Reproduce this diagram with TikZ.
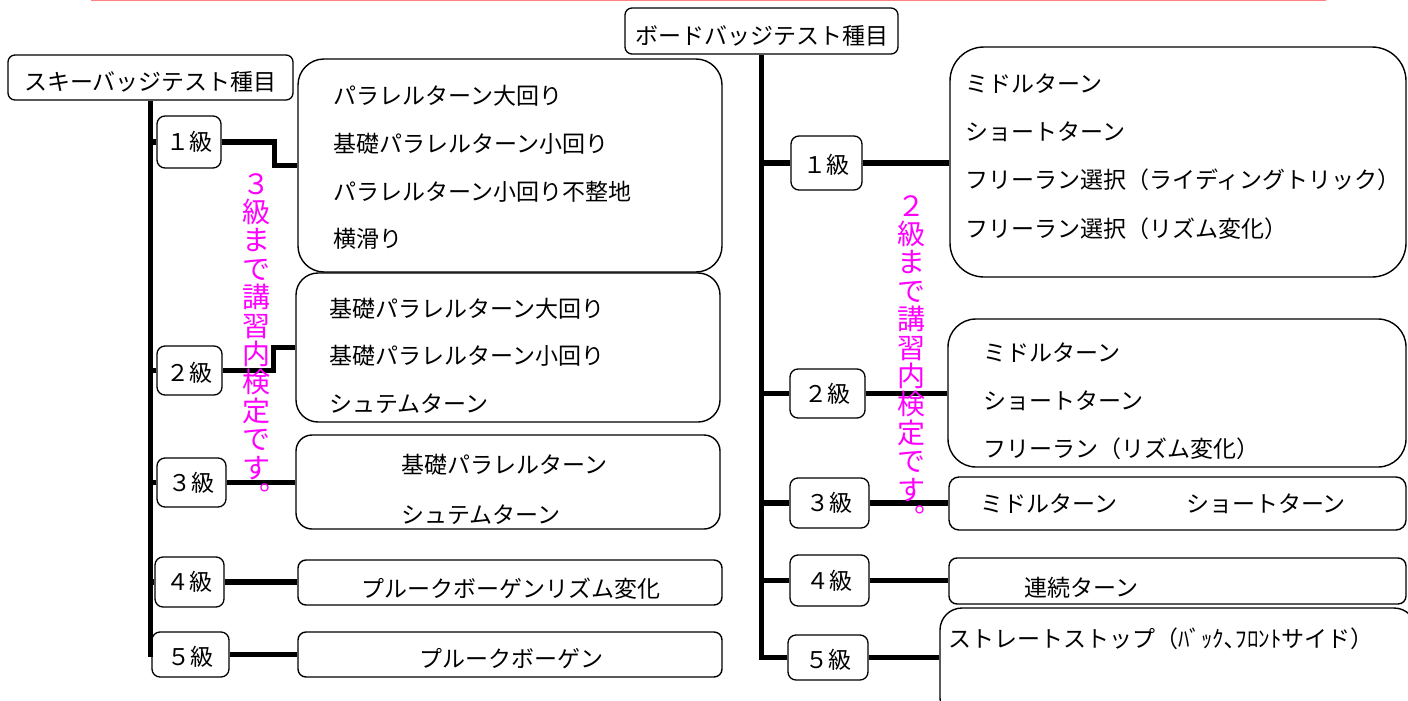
\documentclass[tikz,border=0pt]{standalone}
\usepackage{fontspec}
\setmainfont{Noto Sans CJK JP}
\definecolor{pinkline}{RGB}{255,128,128}
\definecolor{notepink}{RGB}{255,0,255}
\newcommand{\lowtext}[2]{\raisebox{-#1}[\height][\depth]{#2}}

\begin{document}
\begin{tikzpicture}[line cap=butt,line join=miter,x=1pt,y=-1pt,
  every node/.style={font=\fontsize{23}{28}\selectfont},
  head/.style={draw,line width=1.3pt,rounded corners=7pt,fill=white,inner sep=0pt},
  grade/.style={draw,line width=1.3pt,rounded corners=8pt,fill=white,inner sep=0pt},
  item/.style={draw,line width=1.4pt,fill=white,inner sep=0pt},
  lines/.style={align=left,inner sep=0pt,font=\fontsize{23}{#1}\selectfont},
  lines/.default=28,
  bar/.style={line width=5.5pt},
  note/.style={text=notepink,align=center,inner sep=0pt,font=\fontsize{28}{28.4}\selectfont}]
\useasboundingbox (0,0) rectangle (1408,701);
\draw [pinkline,line width=1.5pt] (91,0.75)--(1326,0.75);

% ski side
\node [head,minimum width=285pt,minimum height=45pt] (skihead) at (150.5,77.5) {\lowtext{4pt}{スキーバッジテスト種目}};
\node [grade,minimum width=64pt,minimum height=52pt] (l1) at (189,142) {１級};
\node [grade,minimum width=65pt,minimum height=49pt] (l2) at (189.5,370.5) {\lowtext{2pt}{２級}};
\node [grade,minimum width=69pt,minimum height=49pt] (l3) at (191.5,482.5) {３級};
\node [grade,minimum width=69pt,minimum height=50pt] (l4) at (189.5,582) {４級};
\node [grade,minimum width=77pt,minimum height=45pt] (l5) at (190.5,654.5) {\lowtext{2pt}{５級}};
\node [item,rounded corners=26pt,minimum width=424pt,minimum height=213pt] (s1) at (510,165.5) {};
\node [item,rounded corners=22pt,minimum width=424pt,minimum height=149pt] (s2) at (508,347.5) {};
\node [item,rounded corners=16pt,minimum width=424pt,minimum height=94pt] (s3) at (508,482) {};
\node [item,rounded corners=8pt,minimum width=424pt,minimum height=45pt] (s4) at (510,582.5) {};
\node [item,rounded corners=8pt,minimum width=424pt,minimum height=45pt] (s5) at (510,654.5) {};
\node [lines=47.7,anchor=west] (s1text) at (333,167.5)
  {パラレルターン大回り\\基礎パラレルターン小回り\\パラレルターン小回り不整地\\横滑り};
\node [lines=47.5,anchor=west] (s2text) at (329,355.5)
  {基礎パラレルターン大回り\\基礎パラレルターン小回り\\シュテムターン};
\node [lines=50,anchor=west] (s3text) at (401,489)
  {基礎パラレルターン\\シュテムターン};
\node [lines] (s4text) at (511,589) {プルークボーゲンリズム変化};
\node [lines] (s5text) at (511,659) {プルークボーゲン};

\coordinate (skiend) at (150.5,657);
\draw [bar] (skihead.south)--(skiend);
\foreach \g in {l1,l2,l3,l4,l5}
  \draw [bar] (skiend |- \g.west)--(\g.west);
\draw [bar] (l1.east)--++(53,0) |- (s1.west);
\draw [bar] (l2.east)--++(51,0) |- (s2.west);
\foreach \g/\s in {l3/s3,l4/s4,l5/s5}
  \draw [bar] (\g.east)--(\g.east -| \s.west);

% board side
\node [head,minimum width=273pt,minimum height=46pt] (bhead) at (761.5,31) {\lowtext{5pt}{ボードバッジテスト種目}};
\node [grade,minimum width=71pt,minimum height=54pt] (r1) at (826.5,163) {\lowtext{2pt}{１級}};
\node [grade,minimum width=75pt,minimum height=49pt] (r2) at (827.5,393.5) {２級};
\node [grade,minimum width=79pt,minimum height=50pt] (r3) at (829.5,503) {３級};
\node [grade,minimum width=79pt,minimum height=51pt] (r4) at (829.5,580.5) {４級};
\node [grade,minimum width=80pt,minimum height=45pt] (r5) at (828,657.5) {\lowtext{2pt}{５級}};
\node [item,rounded corners=34pt,minimum width=456pt,minimum height=230pt] (t1) at (1178,162) {};
\node [item,rounded corners=28pt,minimum width=458pt,minimum height=148pt] (t2) at (1177,393) {};
\node [item,rounded corners=10pt,minimum width=457pt,minimum height=53pt] (t3) at (1177.5,503.5) {};
\node [item,rounded corners=8pt,minimum width=457pt,minimum height=46pt] (t4) at (1177.5,581) {};
\node [item,rounded corners=22pt,minimum width=476pt,minimum height=112pt] (t5) at (1178,664) {};
\node [lines=48.3,anchor=west] (t1text) at (965,156.5)
  {ミドルターン\\ショートターン\\フリーラン選択（ライディングトリック）\\フリーラン選択（リズム変化）};
\node [lines=48,anchor=west] (t2text) at (983,401)
  {ミドルターン\\ショートターン\\フリーラン（リズム変化）};
\node [lines,anchor=west] (t3text) at (980,504) {ミドルターン　　　ショートターン};
\node [lines,anchor=west] (t4text) at (1024,588) {連続ターン};
\node [lines,anchor=west] (t5text) at (948,639) {ストレートストップ（ﾊﾞｯｸ､ﾌﾛﾝﾄサイド）};

\draw [bar] (bhead.south) |- (r5.west);
\foreach \g in {r1,r2,r3,r4}
  \draw [bar] (bhead.south |- \g.west)--(\g.west);
\foreach \g/\s in {r1/t1,r2/t2,r3/t3,r4/t4,r5/t5}
  \draw [bar] (\g.east)--(\g.east -| \s.west);

% notes
\node [note,anchor=north] (skinote) at (256,173) {３\\級\\ま\\で\\講\\習\\内\\検\\定\\で\\す\\︒};
\node [note,anchor=north] (boardnote) at (911,195) {２\\級\\ま\\で\\講\\習\\内\\検\\定\\で\\す\\︒};
\end{tikzpicture}
\end{document}
